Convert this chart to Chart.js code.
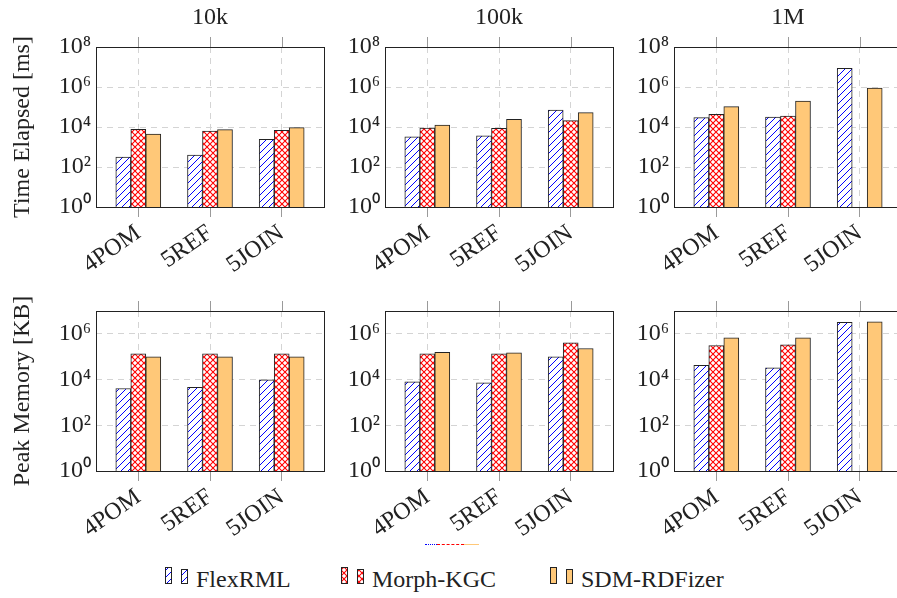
<!DOCTYPE html>
<html>
<head>
<meta charset="utf-8">
<script src="https://cdn.jsdelivr.net/npm/chart.js@4"></script>
<style>
  html, body { margin: 0; padding: 0; background: #fff; }
  body { width: 897px; height: 598px; position: relative; overflow: hidden; font-family: 'Liberation Serif', 'Times New Roman', serif; color: #222; }
  canvas.panel { position: absolute; }
  .legend-item { position: absolute; top: 564px; height: 30px; }
  .legend-item canvas { position: absolute; left: 0; top: 0; }
  .legend-item span { position: absolute; left: 31px; top: 3px; font-family: 'Liberation Serif', serif; font-size: 24px; line-height: 1; white-space: nowrap; }
  .stray { position: absolute; top: 544px; left: 425px; height: 2px; font-size: 0; }
  .stray i { display: inline-block; height: 0; }
</style>
</head>
<body>
<div class="stray">
  <i style="width:12px;border-top:1px dotted #0000ff"></i><i style="width:27px;border-top:1px dashed #ff0000"></i><i style="width:15px;border-top:1px solid #ffc878"></i>
</div>
<script>
// categories and panels
const categories = ['4POM', '5REF', '5JOIN'];
const sizes = ['10k', '100k', '1M'];
const tools = ['FlexRML', 'Morph-KGC', 'SDM-RDFizer'];

// Time elapsed [ms] per tool, one row per size (10k, 100k, 1M)
const timeFlexRML = [[316, 400, 2400], [3270, 3670, 70800], [29200, 31600, 8500000]];
const timeMorphKGC = [[7600, 6300, 6760], [8900, 8510, 20650], [42700, 35500, null]];
const timeSDMRDFizer = [[4470, 7330, 9230], [12600, 24000, 51900], [103500, 200000, 891000]];

// Peak memory [KB] per tool, one row per size
const memFlexRML = [[4080, 4520, 9800], [8000, 7250, 99000], [42500, 32700, 3210000]];
const memMorphKGC = [[134000, 134000, 134000], [134000, 134000, 405000], [309000, 331000, null]];
const memSDMRDFizer = [[99000, 99000, 99000], [157000, 148000, 228000], [668000, 668000, 3340000]];

const timeTicks = [1, 1e2, 1e4, 1e6, 1e8];
const memTicks = [1, 1e2, 1e4, 1e6];
const sup = ['⁰', '¹', '²', '³', '⁴', '⁵', '⁶', '⁷', '⁸', '⁹'];

Chart.defaults.font.family = "'Liberation Serif', 'Times New Roman', serif";
Chart.defaults.font.size = 24;
Chart.defaults.color = '#222';

// fill patterns
function makePattern(kind) {
  const c = document.createElement('canvas');
  const g = c.getContext('2d');
  if (kind === 'lines') {
    c.width = c.height = 7;
    g.fillStyle = '#fff';
    g.fillRect(0, 0, 7, 7);
    g.strokeStyle = '#0000ff';
    g.lineWidth = 1;
    g.beginPath();
    g.moveTo(-1, 8); g.lineTo(8, -1);
    g.moveTo(-1, 1); g.lineTo(1, -1);
    g.moveTo(6, 8); g.lineTo(8, 6);
    g.stroke();
  } else if (kind === 'cross') {
    c.width = c.height = 6;
    g.fillStyle = '#fff';
    g.fillRect(0, 0, 6, 6);
    g.strokeStyle = '#ff0000';
    g.lineWidth = 1.1;
    g.beginPath();
    g.moveTo(-1, -1); g.lineTo(7, 7);
    g.moveTo(7, -1); g.lineTo(-1, 7);
    g.stroke();
  } else {
    return '#ffc878';
  }
  return g.createPattern(c, 'repeat');
}
const fills = [makePattern('lines'), makePattern('cross'), makePattern('solid')];

// frame and top tick marks
const framePlugin = {
  id: 'frame',
  afterDraw(chart) {
    const { ctx, chartArea: a } = chart;
    ctx.save();
    ctx.strokeStyle = '#9a9a9a';
    ctx.lineWidth = 1;
    chart.scales.x.ticks.forEach(t => {
      const px = Math.round(chart.scales.x.getPixelForValue(t.value)) + 0.5;
      ctx.beginPath();
      ctx.moveTo(px, a.top - 10);
      ctx.lineTo(px, a.top);
      ctx.stroke();
    });
    ctx.strokeStyle = '#222';
    ctx.strokeRect(Math.round(a.left) + 0.5, Math.round(a.top) + 0.5,
      Math.round(a.right - a.left), Math.round(a.bottom - a.top));
    ctx.restore();
  }
};

const plotLefts = [96, 385, 674];
const plotW = 228;
const plotH = 160;

function makePanel(row, col) {
  const series = row === 0
    ? [timeFlexRML[col], timeMorphKGC[col], timeSDMRDFizer[col]]
    : [memFlexRML[col], memMorphKGC[col], memSDMRDFizer[col]];
  const yTicks = row === 0 ? timeTicks : memTicks;
  const topPad = row === 0 ? 47 : 20;

  const canvas = document.createElement('canvas');
  canvas.className = 'panel';
  canvas.width = 96 + plotW + 6;
  canvas.height = topPad + plotH + 70;
  canvas.style.left = (plotLefts[col] - 96) + 'px';
  canvas.style.top = (row === 0 ? 0 : 291) + 'px';
  document.body.appendChild(canvas);

  new Chart(canvas.getContext('2d'), {
    type: 'bar',
    data: {
      datasets: tools.map((name, k) => ({
        label: name,
        data: categories.map((c, i) => ({ x: i, y: series[k][i] })),
        backgroundColor: fills[k],
        borderColor: '#222',
        borderWidth: 1,
        barThickness: 15
      }))
    },
    options: {
      responsive: false,
      animation: false,
      devicePixelRatio: 1,
      layout: { padding: { top: row === 0 ? 0 : topPad, right: 6, left: 0, bottom: 0 } },
      plugins: {
        legend: { display: false },
        tooltip: { enabled: false },
        title: {
          display: row === 0,
          text: sizes[col],
          fullSize: false,
          font: { size: 24, weight: 'normal' },
          color: '#222',
          padding: { top: 3, bottom: 15.2 }
        }
      },
      scales: {
        x: {
          type: 'linear',
          offset: false,
          min: -0.59,
          max: 2.59,
          afterBuildTicks: s => { s.ticks = categories.map((c, i) => ({ value: i })); },
          afterFit: s => { s.height = 70; },
          ticks: {
            callback: v => categories[v],
            minRotation: 35,
            maxRotation: 35,
            autoSkip: false,
            padding: 2
          },
          grid: { offset: false, color: '#d4d4d4', tickColor: '#9a9a9a', tickLength: 10, tickBorderDash: [] },
          border: { display: false, dash: [6, 5] }
        },
        y: {
          type: 'logarithmic',
          min: 1,
          max: row === 0 ? 1e8 : 1e7,
          afterBuildTicks: s => { s.ticks = yTicks.map(v => ({ value: v })); },
          afterFit: s => { s.width = 96; },
          ticks: {
            callback: v => '10' + sup[Math.round(Math.log10(v))],
            padding: 5
          },
          grid: { color: '#d4d4d4', drawTicks: false },
          border: { display: false, dash: [6, 5] },
          title: {
            display: col === 0,
            text: row === 0 ? 'Time Elapsed [ms]' : 'Peak Memory [KB]',
            font: { size: 24 },
            padding: { top: 8, bottom: 0 }
          }
        }
      }
    },
    plugins: [framePlugin]
  });
}

for (let r = 0; r < 2; r++) {
  for (let c = 0; c < 3; c++) makePanel(r, c);
}

// legend below the grid
const legendLefts = [165, 341, 550];
tools.forEach((name, k) => {
  const item = document.createElement('div');
  item.className = 'legend-item';
  item.style.left = legendLefts[k] + 'px';
  const sw = document.createElement('canvas');
  sw.width = 24;
  sw.height = 22;
  const g = sw.getContext('2d');
  [[0.5, 3.5, 6, 16], [16.5, 5.5, 6, 14]].forEach(([x, y, w, h]) => {
    g.fillStyle = fills[k];
    g.fillRect(x, y, w, h);
    g.strokeStyle = '#222';
    g.lineWidth = 1;
    g.strokeRect(x, y, w, h);
  });
  const label = document.createElement('span');
  label.textContent = name;
  item.appendChild(sw);
  item.appendChild(label);
  document.body.appendChild(item);
});
</script>
</body>
</html>
